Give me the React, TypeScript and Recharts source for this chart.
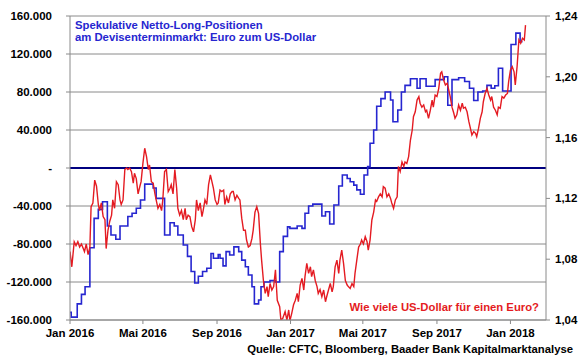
import React from 'react';
import { ComposedChart, Line, XAxis, YAxis, CartesianGrid, ReferenceLine } from 'recharts';

// x values: days since 1 Jan 2016
const xTickDays = [0, 121, 244, 366, 486, 609, 731];
const xTickLabels = ['Jan 2016', 'Mai 2016', 'Sep 2016', 'Jan 2017', 'Mai 2017', 'Sep 2017', 'Jan 2018'];
const leftTicks = [-160000, -120000, -80000, -40000, 0, 40000, 80000, 120000, 160000];
const rightTicks = [1.04, 1.08, 1.12, 1.16, 1.2, 1.24];

// Spekulative Netto-Long-Positionen (Kontrakte), wöchentlich [Tag, Wert]
const netLong: [number, number][] = [
  [0, -152000], [2, -157000], [12, -143000], [19, -133000], [25, -125000], [33, -84000], [40, -53000],
  [47, -43500], [54, -35500], [62, -61000], [68, -70500], [76, -75000], [83, -61000], [96, -51000],
  [103, -47700], [110, -42400], [117, -33700], [124, -17000], [138, -21000], [143, -32000], [157, -70500],
  [166, -57600], [173, -61000], [179, -70500], [188, -81000], [195, -93000], [201, -109000], [207, -121000],
  [213, -114000], [220, -109000], [227, -105600], [234, -90000], [238, -95000], [246, -91000], [249, -95000],
  [254, -103000], [259, -88000], [265, -91600], [272, -83000], [280, -88000], [285, -97000], [291, -104000],
  [296, -112600], [302, -125000], [306, -143000], [313, -139000], [317, -125000], [322, -120000],
  [332, -118600], [341, -120000], [348, -88000], [354, -72000], [361, -62000], [365, -63500], [377, -61000],
  [385, -63500], [390, -47700], [396, -40000], [403, -38000], [418, -50500], [424, -46000], [431, -59000],
  [438, -39000], [446, -19000], [452, -7400], [460, -11000], [465, -14400], [471, -18000], [476, -23000],
  [482, -27700], [488, -7400], [494, 1400], [498, 26000], [504, 40000], [509, 65000], [516, 73000],
  [523, 80000], [532, 71600], [536, 48700], [544, 61000], [550, 80000], [556, 87000], [565, 94000],
  [576, 84000], [581, 94000], [591, 86000], [606, 93000], [621, 96000], [627, 66000], [634, 93000],
  [645, 95000], [655, 91000], [663, 84000], [670, 71000], [677, 80000], [685, 81000], [692, 87000],
  [699, 84000], [705, 86600], [711, 105000], [718, 81000], [732, 130000], [740, 142000], [747, 133000],
  [751, 133000],
];

// EUR/USD [Tag, Kurs]
const eurUsd: [number, number][] = [
  [0, 1.085], [3, 1.075], [7, 1.0915], [10, 1.089], [13, 1.0915], [16, 1.088], [19, 1.09], [22, 1.087],
  [24, 1.085], [27, 1.09], [30, 1.083], [33, 1.088], [35, 1.1145], [38, 1.117], [41, 1.132], [44, 1.128],
  [47, 1.116], [49, 1.112], [52, 1.117], [55, 1.108], [58, 1.106], [60, 1.087], [63, 1.099], [66, 1.105],
  [69, 1.109], [71, 1.119], [74, 1.1135], [77, 1.131], [80, 1.129], [83, 1.119], [85, 1.116], [88, 1.119],
  [91, 1.139], [94, 1.14], [96, 1.139], [99, 1.14], [102, 1.1376], [105, 1.13], [107, 1.1365], [110, 1.133],
  [113, 1.123], [116, 1.128], [118, 1.131], [121, 1.143], [124, 1.153], [127, 1.1475], [130, 1.139],
  [132, 1.142], [135, 1.131], [138, 1.13], [141, 1.123], [143, 1.119], [146, 1.1135], [149, 1.116],
  [152, 1.112], [154, 1.119], [157, 1.1376], [160, 1.139], [163, 1.1245], [166, 1.1267], [168, 1.129],
  [171, 1.123], [174, 1.139], [177, 1.1267], [179, 1.1135], [182, 1.109], [185, 1.112], [188, 1.106],
  [191, 1.1135], [193, 1.106], [196, 1.109],
  [199, 1.108], [202, 1.1014], [205, 1.098], [208, 1.106], [210, 1.119], [213, 1.112], [216, 1.117],
  [219, 1.108], [221, 1.112], [224, 1.119], [227, 1.116], [230, 1.129], [233, 1.1354], [235, 1.132],
  [238, 1.1267], [241, 1.119], [244, 1.116], [246, 1.117], [249, 1.1255], [252, 1.1245], [255, 1.1255],
  [257, 1.116], [260, 1.121], [263, 1.117], [266, 1.123], [269, 1.1245], [271, 1.1245], [274, 1.119],
  [277, 1.122], [280, 1.12], [282, 1.119], [285, 1.107], [288, 1.099], [291, 1.099], [293, 1.0926],
  [296, 1.088], [299, 1.089], [302, 1.0937], [304, 1.099], [307, 1.111], [310, 1.1145], [313, 1.11],
  [316, 1.09], [318, 1.0794], [321, 1.066], [324, 1.0575], [327, 1.062], [329, 1.0553], [332, 1.064],
  [335, 1.0597], [338, 1.062], [341, 1.073], [342, 1.066], [344, 1.053], [348, 1.0487], [350, 1.04],
  [353, 1.041], [357, 1.0455], [360, 1.04], [363, 1.0466], [365, 1.0395], [368, 1.0444], [371, 1.05],
  [374, 1.053], [377, 1.0575], [379, 1.052], [382, 1.063], [385, 1.0674], [388, 1.0597], [390, 1.0685],
  [393, 1.0773], [396, 1.0707], [399, 1.075], [401, 1.0685], [404, 1.0729], [407, 1.066], [410, 1.062],
  [412, 1.0575], [415, 1.06],
  [418, 1.0553], [421, 1.0597], [424, 1.052], [426, 1.0553], [429, 1.0597], [432, 1.064], [435, 1.0586],
  [437, 1.062], [440, 1.075], [443, 1.0794], [446, 1.0707], [448, 1.0794], [451, 1.086], [454, 1.0773],
  [457, 1.066], [460, 1.063], [462, 1.062], [465, 1.0608], [468, 1.064], [471, 1.062], [473, 1.0707],
  [476, 1.0794], [479, 1.088], [482, 1.09], [484, 1.0926], [487, 1.09], [490, 1.0948], [493, 1.0915],
  [495, 1.086], [498, 1.0926], [501, 1.1058], [504, 1.111], [507, 1.119], [509, 1.118], [512, 1.121],
  [515, 1.123], [518, 1.121], [520, 1.1277], [523, 1.1267], [526, 1.121], [529, 1.123], [532, 1.12],
  [534, 1.117], [537, 1.1135], [540, 1.119], [543, 1.121], [545, 1.141], [548, 1.1376], [551, 1.144],
  [554, 1.141], [556, 1.144], [559, 1.143], [562, 1.1475], [565, 1.1584], [568, 1.165], [570, 1.1737],
  [573, 1.177], [576, 1.1847], [579, 1.187], [581, 1.1826], [584, 1.18], [587, 1.1815], [590, 1.177],
  [592, 1.178],
  [595, 1.1727], [598, 1.178], [601, 1.1847], [603, 1.18], [606, 1.188], [609, 1.187], [612, 1.1924],
  [615, 1.2023], [617, 1.2033], [620, 1.198], [623, 1.1946], [626, 1.1957], [628, 1.1924], [631, 1.187],
  [634, 1.18], [637, 1.176], [639, 1.1727], [642, 1.175], [645, 1.1815], [648, 1.178], [651, 1.1826],
  [653, 1.1793], [656, 1.18], [659, 1.177], [662, 1.1705], [664, 1.167], [667, 1.1617], [670, 1.1639],
  [673, 1.1628], [675, 1.1606], [678, 1.166], [681, 1.1727], [684, 1.177], [686, 1.1836], [689, 1.189],
  [692, 1.1924], [695, 1.188], [698, 1.1847], [700, 1.187], [703, 1.18], [706, 1.178], [709, 1.175],
  [711, 1.18], [714, 1.1793], [717, 1.187], [720, 1.186], [723, 1.188], [726, 1.189], [728, 1.1968],
  [731, 1.2045], [734, 1.2066], [737, 1.2033], [739, 1.1946], [742, 1.2066], [745, 1.2242], [748, 1.222],
  [751, 1.2253], [754, 1.2242], [756, 1.234],
];

const blueData = netLong.map(([d, v]) => ({ d, v }));
const redData = eurUsd.map(([d, r]) => ({ d, r }));

const BLUE = '#2626d0';
const RED = '#e41b22';
const GRID = '#8a8a8a';
const FONT = '"Liberation Sans", Arial, sans-serif';
const tickStyle = { fill: '#000', fontSize: 11.5, fontWeight: 'bold' as const, fontFamily: FONT };

const fmtLeft = (v: number) => (v === 0 ? '-' : (v < 0 ? '-' : '') + Math.abs(v) / 1000 + '.000');
const fmtRight = (v: number) => v.toFixed(2).replace('.', ',');
const fmtX = (v: number) => xTickLabels[xTickDays.indexOf(v)] ?? '';

export default function App() {
  return (
    <div style={{ position: 'absolute', left: 0, top: 0, width: 580, height: 359, background: '#fff', fontFamily: FONT }}>
      <ComposedChart width={580} height={359} margin={{ top: 16, right: 0, bottom: 0, left: 0 }}>
        <CartesianGrid yAxisId="left" vertical={false} stroke={GRID} strokeWidth={1} />
        <XAxis
          dataKey="d"
          type="number"
          domain={[0, 790]}
          ticks={xTickDays}
          tickFormatter={fmtX}
          allowDataOverflow
          height={39}
          tickSize={4}
          tickMargin={5}
          stroke={GRID}
          tick={tickStyle}
          interval={0}
        />
        <YAxis
          yAxisId="left"
          domain={[-160000, 160000]}
          ticks={leftTicks}
          tickFormatter={fmtLeft}
          width={70}
          tickSize={4}
          tickMargin={14}
          stroke={GRID}
          tick={tickStyle}
          interval={0}
          allowDataOverflow
        />
        <YAxis
          yAxisId="right"
          orientation="right"
          domain={[1.04, 1.24]}
          ticks={rightTicks}
          tickFormatter={fmtRight}
          width={34}
          tickSize={4}
          tickMargin={5}
          stroke={GRID}
          tick={tickStyle}
          interval={0}
          allowDataOverflow
        />
        <ReferenceLine yAxisId="left" y={0} stroke="#000080" strokeWidth={2} />
        <Line
          yAxisId="left"
          data={blueData}
          dataKey="v"
          type="stepAfter"
          stroke={BLUE}
          strokeWidth={1.6}
          dot={false}
          isAnimationActive={false}
        />
        <Line
          yAxisId="right"
          data={redData}
          dataKey="r"
          type="linear"
          stroke={RED}
          strokeWidth={1.4}
          dot={false}
          isAnimationActive={false}
        />
      </ComposedChart>
      <svg width={580} height={359} style={{ position: 'absolute', left: 0, top: 0, pointerEvents: 'none' }}>
        <text x={75} y={29} fill={BLUE} fontSize={11.3} fontWeight="bold" fontFamily={FONT}>
          Spekulative Netto-Long-Positionen
        </text>
        <text x={75} y={41} fill={BLUE} fontSize={11.3} fontWeight="bold" fontFamily={FONT}>
          am Devisenterminmarkt: Euro zum US-Dollar
        </text>
        <text x={539} y={311} textAnchor="end" fill={RED} fontSize={11.3} fontWeight="bold" fontFamily={FONT}>
          Wie viele US-Dollar für einen Euro?
        </text>
        <text x={573} y={353} textAnchor="end" fill="#000" fontSize={11.3} fontWeight="bold" fontFamily={FONT}>
          Quelle: CFTC, Bloomberg, Baader Bank Kapitalmarktanalyse
        </text>
      </svg>
    </div>
  );
}
